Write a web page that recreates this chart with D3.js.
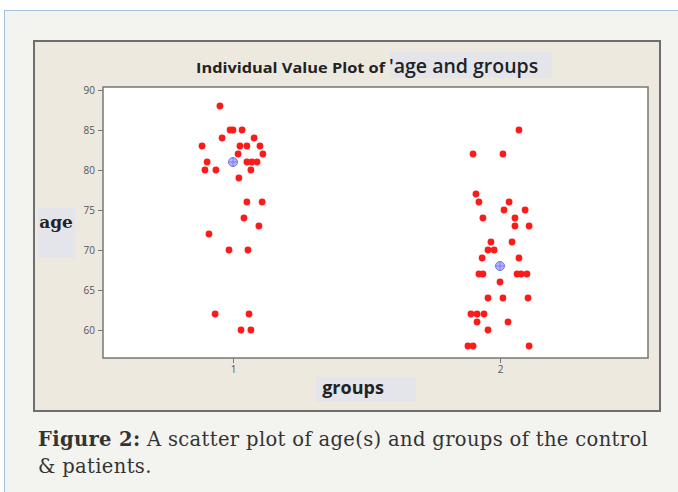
<!DOCTYPE html>
<html>
<head>
<meta charset="utf-8">
<script src="https://cdn.jsdelivr.net/npm/d3@7/dist/d3.min.js"></script>
<style>
  html, body { margin: 0; padding: 0; background: #ffffff; }
  svg { display: block; }
</style>
</head>
<body>
<div id="chart"></div>
<script>
(function() {
  'use strict';

  // ages, with horizontal jitter (in group units)
  var group1Ages = [88, 85, 85, 85, 84, 84, 83, 83, 83, 83, 82, 82, 81, 81, 81, 81,
    80, 80, 80, 79, 76, 76, 74, 73, 72, 70, 70, 62, 62, 60, 60];
  var group1Jitter = [-0.049, -0.011, 0.0, 0.034, -0.041, 0.079, -0.116, 0.026, 0.052, 0.101,
    0.019, 0.112, -0.097, 0.052, 0.071, 0.090, -0.105, -0.064, 0.067, 0.022, 0.052, 0.109,
    0.041, 0.097, -0.090, -0.015, 0.056, -0.067, 0.060, 0.030, 0.067];

  var group2Ages = [85, 82, 82, 77, 76, 76, 75, 75, 74, 74, 73, 73, 71, 71, 70, 70, 69, 69,
    67, 67, 67, 67, 67, 66, 64, 64, 64, 62, 62, 62, 61, 61, 60, 58, 58, 58];
  var group2Jitter = [0.071, -0.101, 0.011, -0.090, -0.079, 0.034, 0.015, 0.094, -0.064, 0.056,
    0.056, 0.109, -0.034, 0.045, -0.045, -0.022, -0.067, 0.071, -0.079, -0.064, 0.064, 0.079,
    0.101, 0.0, -0.045, 0.011, 0.105, -0.109, -0.086, -0.060, -0.086, 0.030, -0.045, -0.120,
    -0.101, 0.109];

  var groups = [1, 2];
  var groupMeans = [81, 68];
  var yTicks = [60, 65, 70, 75, 80, 85, 90];

  var W = 678, H = 492;
  var plot = { left: 103, right: 648, top: 87, bottom: 358 };

  var svg = d3.select('#chart').append('svg')
    .attr('width', W)
    .attr('height', H);

  // page box
  svg.append('rect')
    .attr('x', 4.5).attr('y', 10.5)
    .attr('width', 700).attr('height', 500)
    .attr('fill', '#f3f3ef')
    .attr('stroke', '#a9c3df');

  // chart panel
  svg.append('rect')
    .attr('x', 34).attr('y', 41)
    .attr('width', 626).attr('height', 370)
    .attr('fill', '#eee9df')
    .attr('stroke', '#6e6e6e')
    .attr('stroke-width', 2);

  var x = d3.scaleLinear().domain([1, 2]).range([233, 500]);
  var y = d3.scaleLinear().domain([60, 90]).range([330, 90]);

  svg.append('rect')
    .attr('x', plot.left).attr('y', plot.top)
    .attr('width', plot.right - plot.left)
    .attr('height', plot.bottom - plot.top)
    .attr('fill', '#ffffff')
    .attr('stroke', '#777777')
    .attr('stroke-width', 1.5);

  var yAxis = d3.axisLeft(y).tickValues(yTicks).tickSize(5).tickPadding(3);
  var gy = svg.append('g')
    .attr('class', 'y axis')
    .attr('transform', 'translate(' + plot.left + ',0)')
    .call(yAxis);

  var xAxis = d3.axisBottom(x).tickValues(groups).tickSize(5).tickPadding(3)
    .tickFormat(d3.format('d'));
  var gx = svg.append('g')
    .attr('class', 'x axis')
    .attr('transform', 'translate(0,' + plot.bottom + ')')
    .call(xAxis);

  [gx, gy].forEach(function(g) {
    g.select('.domain').remove();
    g.selectAll('line').attr('stroke', '#777777');
    g.selectAll('text')
      .attr('fill', '#555555')
      .style('font-family', 'Open Sans, sans-serif')
      .style('font-size', '10px');
  });

  // points
  var points = [];
  group1Ages.forEach(function(a, i) { points.push({ g: 1, age: a, j: group1Jitter[i] }); });
  group2Ages.forEach(function(a, i) { points.push({ g: 2, age: a, j: group2Jitter[i] }); });

  svg.append('g').selectAll('circle')
    .data(points)
    .enter().append('circle')
    .attr('cx', function(d) { return x(d.g + d.j); })
    .attr('cy', function(d) { return y(d.age); })
    .attr('r', 3.4)
    .attr('fill', '#ff1a1a');

  // mean symbols
  var means = svg.append('g').selectAll('g')
    .data(groups)
    .enter().append('g')
    .attr('transform', function(d, i) {
      return 'translate(' + x(d) + ',' + y(groupMeans[i]) + ')';
    });
  means.append('circle')
    .attr('r', 4.5)
    .attr('fill', '#b3b3ff')
    .attr('stroke', '#7373e6')
    .attr('stroke-width', 1);
  means.append('path')
    .attr('d', 'M-4.5,0H4.5M0,-4.5V4.5')
    .attr('stroke', '#7373e6')
    .attr('stroke-width', 0.8);

  // title
  svg.append('rect')
    .attr('x', 390).attr('y', 52)
    .attr('width', 162).attr('height', 26)
    .attr('fill', '#e4e5ea');
  svg.append('text')
    .attr('x', 196).attr('y', 73)
    .attr('fill', '#222222')
    .attr('textLength', 189)
    .attr('lengthAdjust', 'spacingAndGlyphs')
    .style('font-family', 'Open Sans, sans-serif')
    .style('font-weight', 'bold')
    .style('font-size', '14px')
    .text('Individual Value Plot of');
  svg.append('text')
    .attr('x', 389).attr('y', 73)
    .attr('fill', '#222222')
    .style('font-family', 'Open Sans, sans-serif')
    .style('font-weight', '600')
    .style('font-size', '19.5px')
    .text('\'age and groups');

  // axis labels
  svg.append('rect')
    .attr('x', 38).attr('y', 208)
    .attr('width', 37).attr('height', 50)
    .attr('fill', '#e4e5ea');
  svg.append('text')
    .attr('x', 56).attr('y', 228)
    .attr('text-anchor', 'middle')
    .attr('fill', '#222222')
    .style('font-family', 'DejaVu Serif, serif')
    .style('font-weight', 'bold')
    .style('font-size', '17px')
    .text('age');

  svg.append('rect')
    .attr('x', 316).attr('y', 377)
    .attr('width', 100).attr('height', 25)
    .attr('fill', '#e4e5ea');
  svg.append('text')
    .attr('x', 353).attr('y', 394)
    .attr('text-anchor', 'middle')
    .attr('fill', '#222222')
    .style('font-family', 'Open Sans, sans-serif')
    .style('font-weight', 'bold')
    .style('font-size', '18px')
    .text('groups');

  // caption
  var cap = svg.append('text')
    .attr('fill', '#333333')
    .style('font-family', 'DejaVu Serif, serif')
    .style('font-size', '19.5px')
    .style('letter-spacing', '0.35px');
  var line1 = cap.append('tspan').attr('x', 38).attr('y', 446);
  line1.append('tspan').style('font-weight', 'bold').text('Figure 2:');
  line1.append('tspan').text(' A scatter plot of age(s) and groups of the control');
  cap.append('tspan').attr('x', 38).attr('y', 473).text('& patients.');
})();
</script>
</body>
</html>
